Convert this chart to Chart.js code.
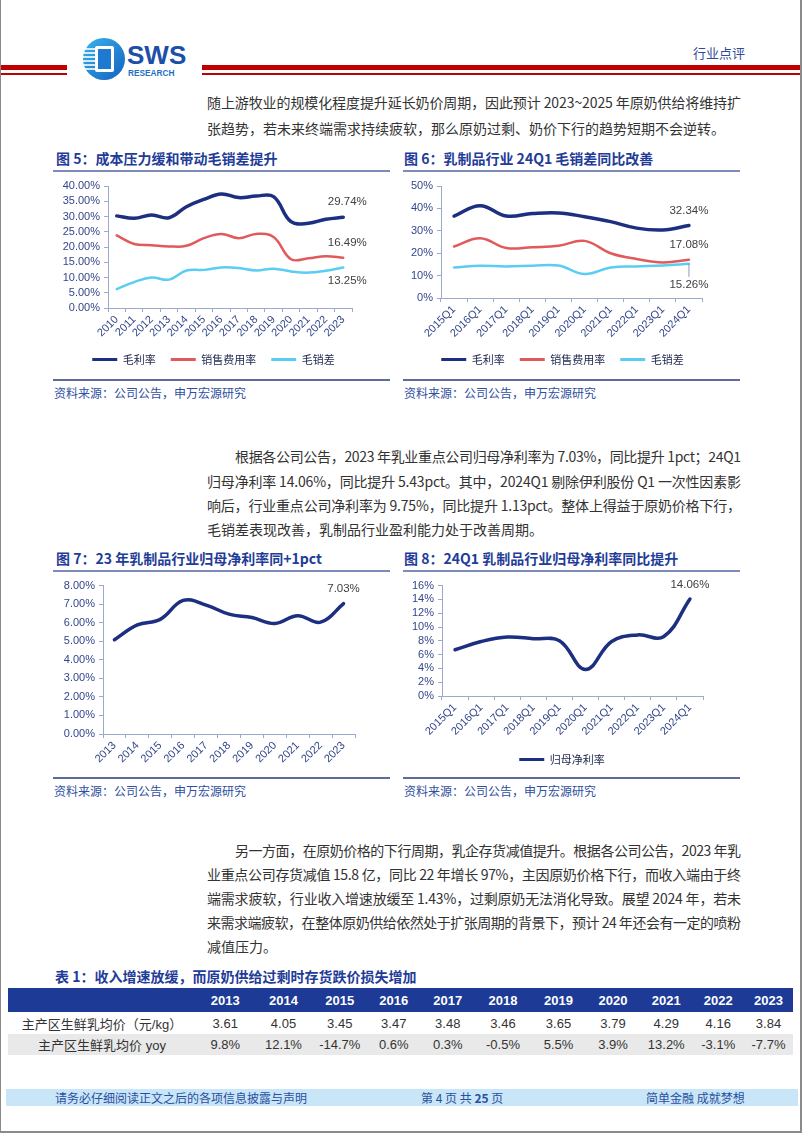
<!DOCTYPE html>
<html>
<head>
<meta charset="utf-8">
<script src="https://cdn.jsdelivr.net/npm/chart.js@4.4.1/dist/chart.umd.min.js"></script>
<style>
  body { margin: 0; background: #fff; }
  #page { position: relative; width: 802px; height: 1133px; overflow: hidden; background: #fff;
          font-family: 'Noto Sans CJK SC', sans-serif; }
  .abs { position: absolute; }
  .line { position: absolute; height: 20px; line-height: 20px; font-size: 14px; color: #333; white-space: nowrap; }
  .ttl { position: absolute; height: 20px; line-height: 20px; font-size: 14px; font-weight: bold; color: #1f3c99; white-space: nowrap; }
  .rule { position: absolute; height: 2px; background: #7d8bb8; }
  .src { position: absolute; height: 16px; line-height: 16px; font-size: 12px; color: #2f4fa0; white-space: nowrap; }
  .chart { position: absolute; width: 340px; height: 200px; }
  #tbl { position: absolute; left: 8px; top: 988px; border-collapse: collapse; table-layout: fixed; }
  #tbl td { padding: 0; text-align: center; font-size: 13px; color: #333; white-space: nowrap;
            font-family: 'Liberation Sans Narrow', 'Liberation Sans', 'Noto Sans CJK SC', sans-serif; }
  #tbl tr.hd td { background: #1c3a96; color: #fff; font-weight: bold; height: 24px; }
  #tbl tr.r1 td { height: 22px; }
  #tbl tr.r2 td { height: 21px; background: #e9e9e9; }
  .foot { position: absolute; top: 1089px; height: 17px; line-height: 17px; font-size: 12px; color: #2a4fa0; white-space: nowrap; }
</style>
</head>
<body>
<div id="page">
  <!-- page frame -->
  <div class="abs" style="left:0;top:0;width:1px;height:1133px;background:#8a8a8a"></div>
  <div class="abs" style="left:800px;top:0;width:2px;height:1133px;background:#8a8a8a"></div>
  <div class="abs" style="left:0;top:1131px;width:802px;height:2px;background:#8a8a8a"></div>

  <!-- header -->
  <div class="abs" style="left:1px;top:65px;width:66px;height:5px;background:#c00000"></div>
  <div class="abs" style="left:1px;top:73px;width:66px;height:2px;background:#c00000"></div>
  <div class="abs" style="left:202px;top:65px;width:598px;height:5px;background:#c00000"></div>
  <div class="abs" style="left:202px;top:73px;width:598px;height:2px;background:#c00000"></div>
  <svg class="abs" style="left:82px;top:36px" width="110" height="46">
    <defs>
      <linearGradient id="lg" x1="0" y1="0" x2="1" y2="1">
        <stop offset="0" stop-color="#38b4ee"/>
        <stop offset="1" stop-color="#1460bd"/>
      </linearGradient>
    </defs>
    <circle cx="22" cy="23" r="21" fill="url(#lg)"/>
    <g stroke="#fff" stroke-width="1.6">
      <line x1="3" y1="13" x2="14" y2="13"/>
      <line x1="2" y1="17" x2="14" y2="17"/>
      <line x1="1" y1="21" x2="14" y2="21"/>
      <line x1="1" y1="25" x2="14" y2="25"/>
      <line x1="1" y1="29" x2="14" y2="29"/>
      <line x1="2" y1="33" x2="14" y2="33"/>
    </g>
    <rect x="13" y="10" width="19" height="26" rx="2" fill="#fff"/>
    <rect x="16" y="13" width="13" height="20" fill="#1d7ad0"/>
    <text x="45" y="28" font-family="Liberation Sans" font-weight="bold" font-size="26" fill="#1d4fa8">SWS</text>
    <text x="46" y="40" font-family="Liberation Sans" font-weight="bold" font-size="8.3" fill="#1e6fc0">RESEARCH</text>
  </svg>
  <div class="abs" style="left:693px;top:44px;font-size:13px;line-height:18px;color:#2f4a9a">行业点评</div>

  <!-- paragraph 1 -->
  <div class="line full" style="left:207px;top:92px;width:534px"><span>随上游牧业的规模化程度提升延长奶价周期，因此预计 2023~2025 年原奶供给将维持扩</span></div>
  <div class="line" style="left:207px;top:118px"><span>张趋势，若未来终端需求持续疲软，那么原奶过剩、奶价下行的趋势短期不会逆转。</span></div>

  <!-- figure 5 / 6 -->
  <div class="ttl" style="left:56px;top:148px">图 5：成本压力缓和带动毛销差提升</div>
  <div class="ttl" style="left:404px;top:148px">图 6：乳制品行业 24Q1 毛销差同比改善</div>
  <div class="rule" style="left:53px;top:170px;width:337px"></div>
  <div class="rule" style="left:403px;top:170px;width:337px"></div>
  <div class="chart" style="left:53px;top:175px"><canvas id="c5"></canvas></div>
  <div class="chart" style="left:403px;top:175px"><canvas id="c6"></canvas></div>
  <div class="rule" style="left:53px;top:379px;width:337px;background:#5d6c9c"></div>
  <div class="rule" style="left:403px;top:379px;width:337px;background:#5d6c9c"></div>
  <div class="src" style="left:54px;top:385px">资料来源：公司公告，申万宏源研究</div>
  <div class="src" style="left:404px;top:385px">资料来源：公司公告，申万宏源研究</div>

  <!-- paragraph 2 -->
  <div class="line full" style="left:235px;top:446px;width:506px"><span>根据各公司公告，2023 年乳业重点公司归母净利率为 7.03%，同比提升 1pct；24Q1</span></div>
  <div class="line full" style="left:207px;top:471px;width:534px"><span>归母净利率 14.06%，同比提升 5.43pct。其中，2024Q1 剔除伊利股份 Q1 一次性因素影</span></div>
  <div class="line full" style="left:207px;top:495px;width:534px"><span>响后，行业重点公司净利率为 9.75%，同比提升 1.13pct。整体上得益于原奶价格下行，</span></div>
  <div class="line" style="left:207px;top:519px"><span>毛销差表现改善，乳制品行业盈利能力处于改善周期。</span></div>

  <!-- figure 7 / 8 -->
  <div class="ttl" style="left:56px;top:548px">图 7：23 年乳制品行业归母净利率同+1pct</div>
  <div class="ttl" style="left:404px;top:548px">图 8：24Q1 乳制品行业归母净利率同比提升</div>
  <div class="rule" style="left:53px;top:570px;width:337px"></div>
  <div class="rule" style="left:403px;top:570px;width:337px"></div>
  <div class="chart" style="left:53px;top:575px"><canvas id="c7"></canvas></div>
  <div class="chart" style="left:403px;top:575px"><canvas id="c8"></canvas></div>
  <div class="rule" style="left:53px;top:777px;width:337px;background:#5d6c9c"></div>
  <div class="rule" style="left:403px;top:777px;width:337px;background:#5d6c9c"></div>
  <div class="src" style="left:54px;top:783px">资料来源：公司公告，申万宏源研究</div>
  <div class="src" style="left:404px;top:783px">资料来源：公司公告，申万宏源研究</div>

  <!-- paragraph 3 -->
  <div class="line full" style="left:235px;top:840px;width:506px"><span>另一方面，在原奶价格的下行周期，乳企存货减值提升。根据各公司公告，2023 年乳</span></div>
  <div class="line full" style="left:207px;top:864px;width:534px"><span>业重点公司存货减值 15.8 亿，同比 22 年增长 97%，主因原奶价格下行，而收入端由于终</span></div>
  <div class="line full" style="left:207px;top:888px;width:534px"><span>端需求疲软，行业收入增速放缓至 1.43%，过剩原奶无法消化导致。展望 2024 年，若未</span></div>
  <div class="line full" style="left:207px;top:912px;width:534px"><span>来需求端疲软，在整体原奶供给依然处于扩张周期的背景下，预计 24 年还会有一定的喷粉</span></div>
  <div class="line" style="left:207px;top:936px"><span>减值压力。</span></div>

  <!-- table -->
  <div class="ttl" style="left:55px;top:966px">表 1：收入增速放缓，而原奶供给过剩时存货跌价损失增加</div>
  <table id="tbl"></table>

  <!-- footer -->
  <div class="abs" style="left:6px;top:1089px;width:792px;height:17px;background:#c8e6f8"></div>
  <div class="foot" style="left:55px">请务必仔细阅读正文之后的各项信息披露与声明</div>
  <div class="foot" style="left:421px">第 4 页 共 <b>25</b> 页</div>
  <div class="foot" style="left:646px">简单金融 成就梦想</div>
</div>

<script>
// ---- data ----
const years5 = ['2010', '2011', '2012', '2013', '2014', '2015', '2016', '2017', '2018', '2019', '2020', '2021', '2022', '2023'];
const gross5 = [30.2, 29.4, 30.5, 29.6, 33.2, 35.6, 37.4, 36.2, 36.7, 36.5, 28.3, 27.8, 29.1, 29.74];
const selling5 = [23.8, 21.0, 20.6, 20.2, 20.4, 22.9, 24.3, 22.9, 24.3, 23.3, 16.0, 16.3, 17.0, 16.49];
const spread5 = [6.2, 8.5, 10.0, 9.3, 12.3, 12.5, 13.3, 13.1, 12.3, 12.9, 12.0, 11.6, 12.2, 13.25];

const quarters6 = ['2015Q1', '2016Q1', '2017Q1', '2018Q1', '2019Q1', '2020Q1', '2021Q1', '2022Q1', '2023Q1', '2024Q1'];
const gross6 = [36.6, 41.2, 36.6, 37.7, 38.0, 36.3, 34.1, 31.2, 30.4, 32.34];
const selling6 = [23.0, 26.7, 22.3, 22.7, 23.3, 25.5, 20.0, 17.4, 15.9, 17.08];
const spread6 = [13.6, 14.4, 14.1, 14.4, 14.5, 10.7, 13.6, 14.1, 14.5, 15.26];

const years7 = ['2013', '2014', '2015', '2016', '2017', '2018', '2019', '2020', '2021', '2022', '2023'];
const netMargin7 = [5.08, 5.88, 6.18, 7.2, 6.95, 6.46, 6.28, 5.96, 6.38, 6.03, 7.03];

const quarters8 = ['2015Q1', '2016Q1', '2017Q1', '2018Q1', '2019Q1', '2020Q1', '2021Q1', '2022Q1', '2023Q1', '2024Q1'];
const netMargin8 = [6.7, 7.9, 8.55, 8.3, 8.0, 3.85, 7.9, 8.85, 8.63, 14.06];

const tableYears = ['2013', '2014', '2015', '2016', '2017', '2018', '2019', '2020', '2021', '2022', '2023'];
const milkPrice = ['3.61', '4.05', '3.45', '3.47', '3.48', '3.46', '3.65', '3.79', '4.29', '4.16', '3.84'];
const milkPriceYoy = ['9.8%', '12.1%', '-14.7%', '0.6%', '0.3%', '-0.5%', '5.5%', '3.9%', '13.2%', '-3.1%', '-7.7%'];

// ---- styles ----
const navy = '#1c2f80', red = '#e05a5c', cyan = '#5ccdf2';
const tickColor = '#33468a', axisColor = '#9aa9cc';

Chart.defaults.font.family = "'Liberation Sans', 'Noto Sans CJK SC', sans-serif";
Chart.defaults.font.size = 11;
Chart.defaults.color = tickColor;

// value label next to the last point of a series
const endLabels = {
  id: 'endLabels',
  afterDatasetsDraw(chart) {
    const ctx = chart.ctx;
    chart.data.datasets.forEach((ds, i) => {
      if (!ds.endLabel) return;
      const meta = chart.getDatasetMeta(i);
      const pt = meta.data[meta.data.length - 1];
      const v = ds.data[ds.data.length - 1];
      const o = ds.endLabel;
      ctx.save();
      if (o.leader) {
        ctx.strokeStyle = '#8a9ac0';
        ctx.lineWidth = 1;
        ctx.beginPath();
        ctx.moveTo(pt.x, pt.y);
        ctx.lineTo(pt.x, pt.y + o.leader);
        ctx.stroke();
      }
      ctx.font = "11.5px 'Liberation Sans', sans-serif";
      ctx.fillStyle = '#404040';
      ctx.textAlign = 'center';
      ctx.textBaseline = 'middle';
      ctx.fillText(v.toFixed(2) + '%', pt.x + o.dx, pt.y + o.dy);
      ctx.restore();
    });
  }
};

// the legend in the source sits a little right of the canvas centre
const legendShift = {
  id: 'legendShift',
  afterLayout(chart) {
    const dx = chart.options.plugins.legendShift && chart.options.plugins.legendShift.dx;
    if (chart.legend && dx) {
      chart.legend.left += dx;
      chart.legend.right += dx;
    }
  }
};

function buildChart(id, labels, series, o) {
  return new Chart(document.getElementById(id), {
    type: 'line',
    data: {
      labels: labels,
      datasets: series.map(s => ({
        label: s.label,
        data: s.data,
        borderColor: s.color,
        backgroundColor: s.color,
        borderWidth: s.width,
        tension: 0.4,
        pointRadius: 0,
        fill: false,
        borderCapStyle: 'round',
        borderJoinStyle: 'round',
        endLabel: s.endLabel
      }))
    },
    options: {
      responsive: true,
      maintainAspectRatio: false,
      animation: false,
      layout: { padding: { left: 0, right: o.padRight, top: o.padTop, bottom: 0 } },
      scales: {
        x: {
          offset: true,
          grid: { display: true, offset: true, drawOnChartArea: false, drawTicks: true, tickLength: 4, color: axisColor },
          border: { display: true, color: axisColor, width: 1 },
          ticks: { autoSkip: false, minRotation: 45, maxRotation: 45, padding: 1, color: tickColor },
          afterFit: s => { s.height = o.xHeight; }
        },
        y: {
          min: o.min,
          max: o.max,
          ticks: { stepSize: o.step, autoSkip: false, callback: o.fmt, color: tickColor, padding: 4 },
          grid: { display: true, drawOnChartArea: false, drawTicks: true, tickLength: 4, color: axisColor },
          border: { display: true, color: axisColor, width: 1 },
          afterFit: s => { s.width = o.yWidth; }
        }
      },
      plugins: {
        legendShift: { dx: o.legendDx || 0 },
        legend: o.legend ? {
          display: true,
          position: 'bottom',
          labels: {
            boxWidth: 25,
            boxHeight: 3,
            padding: 15,
            color: '#222a50',
            font: { size: 11, family: "'Noto Sans CJK SC', sans-serif" },
            generateLabels: chart => chart.data.datasets.map((ds, i) => ({
              text: ds.label, fillStyle: ds.borderColor, strokeStyle: ds.borderColor,
              lineWidth: 0, hidden: false, datasetIndex: i, fontColor: '#222a50'
            }))
          }
        } : { display: false },
        tooltip: { enabled: false }
      }
    },
    plugins: [endLabels, legendShift]
  });
}

const pct2 = v => v.toFixed(2) + '%';
const pct0 = v => v + '%';

buildChart('c5', years5, [
  { label: '毛利率', data: gross5, color: navy, width: 3.5, endLabel: { dx: 4, dy: -15 } },
  { label: '销售费用率', data: selling5, color: red, width: 2.5, endLabel: { dx: 4, dy: -15 } },
  { label: '毛销差', data: spread5, color: cyan, width: 2.5, endLabel: { dx: 4, dy: 13 } }
], { min: 0, max: 40, step: 5, fmt: pct2, yWidth: 55, padRight: 41, padTop: 11, xHeight: 31, legend: true, legendDx: 11 });

buildChart('c6', quarters6, [
  { label: '毛利率', data: gross6, color: navy, width: 3.5, endLabel: { dx: 0, dy: -15 } },
  { label: '销售费用率', data: selling6, color: red, width: 2.5, endLabel: { dx: 0, dy: -15 } },
  { label: '毛销差', data: spread6, color: cyan, width: 2.5, endLabel: { dx: 0, dy: 21, leader: 13 } }
], { min: 0, max: 50, step: 10, fmt: pct0, yWidth: 38, padRight: 41, padTop: 11, xHeight: 41, legend: true, legendDx: 10 });

buildChart('c7', years7, [
  { label: '归母净利率', data: netMargin7, color: navy, width: 3.5, endLabel: { dx: 0, dy: -15 } }
], { min: 0, max: 8, step: 1, fmt: pct2, yWidth: 50, padRight: 38, padTop: 8, xHeight: 41, legend: false });

buildChart('c8', quarters8, [
  { label: '归母净利率', data: netMargin8, color: navy, width: 3.5, endLabel: { dx: 0, dy: -14 } }
], { min: 0, max: 16, step: 2, fmt: pct0, yWidth: 39, padRight: 40, padTop: 8, xHeight: 43, legend: true, legendDx: 9 });

// ---- table ----
const colWidths = [188, 58.5, 58, 54.5, 53.5, 54.5, 56, 55, 54, 52.5, 51.5, 49];
const tbl = document.getElementById('tbl');
const cg = document.createElement('colgroup');
colWidths.forEach(w => { const c = document.createElement('col'); c.style.width = w + 'px'; cg.appendChild(c); });
tbl.appendChild(cg);
function addRow(cls, first, cells) {
  const tr = document.createElement('tr');
  tr.className = cls;
  [first].concat(cells).forEach(t => { const td = document.createElement('td'); td.textContent = t; tr.appendChild(td); });
  tbl.appendChild(tr);
}
addRow('hd', '', tableYears);
addRow('r1', '主产区生鲜乳均价（元/kg）', milkPrice);
addRow('r2', '主产区生鲜乳均价 yoy', milkPriceYoy);

// ---- justify full text lines to the column width ----
function fitLines() {
  document.querySelectorAll('.line.full').forEach(el => {
    const span = el.firstElementChild;
    span.style.letterSpacing = '0px';
    const natural = span.getBoundingClientRect().width;
    const n = span.textContent.length;
    span.style.letterSpacing = ((el.clientWidth - natural) / (n - 1)) + 'px';
  });
}
fitLines();
if (document.fonts) document.fonts.ready.then(fitLines);
</script>
</body>
</html>
